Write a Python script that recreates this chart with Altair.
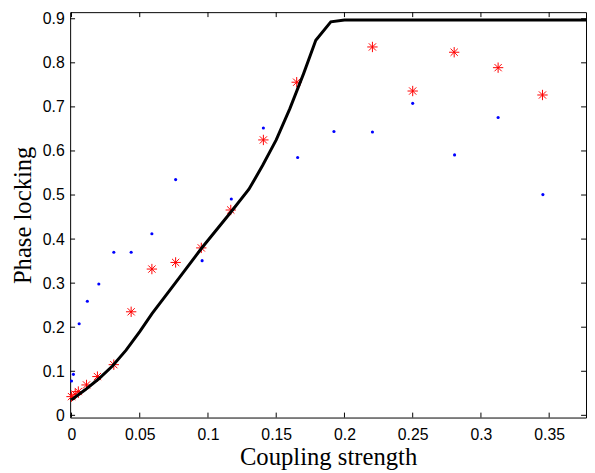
import altair as alt
import pandas as pd

# Theory curve (black line)
line_x = [0, 0.01, 0.02, 0.03, 0.04, 0.05, 0.059, 0.076, 0.095, 0.117, 0.13, 0.14,
          0.15, 0.16, 0.17, 0.179, 0.19, 0.2, 0.38]
line_y = [0.035, 0.058, 0.083, 0.112, 0.148, 0.19, 0.231, 0.30, 0.378, 0.462, 0.513,
          0.567, 0.625, 0.696, 0.775, 0.851, 0.893, 0.897, 0.897]

# Red asterisks
star_x = [0, 0.0027, 0.005, 0.011, 0.019, 0.031, 0.0437, 0.0589, 0.0763, 0.0951,
          0.1167, 0.1406, 0.165, 0.2205, 0.25, 0.2804, 0.3126, 0.3451]
star_y = [0.0425, 0.048, 0.054, 0.069, 0.088, 0.115, 0.235, 0.332, 0.347, 0.380,
          0.466, 0.625, 0.756, 0.836, 0.736, 0.824, 0.789, 0.727]

# Blue dots
dot_x = [0, 0.0014, 0.0056, 0.0116, 0.020, 0.031, 0.0437, 0.0589, 0.0763, 0.0957,
         0.1171, 0.1406, 0.1657, 0.1923, 0.2205, 0.25, 0.2807, 0.3126, 0.3454]
dot_y = [0.078, 0.093, 0.208, 0.259, 0.298, 0.370, 0.370, 0.412, 0.535, 0.351,
         0.491, 0.652, 0.585, 0.644, 0.643, 0.708, 0.591, 0.676, 0.501]

x_ticks = [0, 0.05, 0.1, 0.15, 0.2, 0.25, 0.3, 0.35]
y_ticks = [0, 0.1, 0.2, 0.3, 0.4, 0.5, 0.6, 0.7, 0.8, 0.9]

W, H = 523, 411
TL = 5

line_df = pd.DataFrame({"x": line_x, "y": line_y})
star_df = pd.DataFrame({"x": star_x, "y": star_y})
dot_df = pd.DataFrame({"x": dot_x, "y": dot_y})
xt_df = pd.DataFrame({"v": x_ticks})
yt_df = pd.DataFrame({"v": y_ticks})

xs = alt.Scale(domain=[-0.001, 0.377], nice=False, zero=False)
ys = alt.Scale(domain=[-0.005, 0.915], nice=False, zero=False)

x_axis = alt.Axis(values=x_ticks, format=".2~f", title="Coupling strength",
                  labelFont="Liberation Sans", labelFontSize=16, labelColor="black",
                  labelPadding=9, titleFont="Liberation Serif", titleFontSize=25,
                  titleFontWeight="normal", titleColor="black", titlePadding=3,
                  domain=False, ticks=False, grid=False)
y_axis = alt.Axis(values=y_ticks, format=".1~f", title="Phase locking",
                  labelFont="Liberation Sans", labelFontSize=16, labelColor="black",
                  labelPadding=6, titleFont="Liberation Serif", titleFontSize=25,
                  titleFontWeight="normal", titleColor="black", titlePadding=7,
                  domain=False, ticks=False, grid=False)

dots = alt.Chart(dot_df).mark_point(filled=True, shape="circle", size=10,
                                    color="#0000ff", opacity=1).encode(
    x=alt.X("x:Q", scale=xs, axis=x_axis),
    y=alt.Y("y:Q", scale=ys, axis=y_axis),
)

asterisk = "M-1,0L1,0M0,-1L0,1M-0.7,-0.7L0.7,0.7M-0.7,0.7L0.7,-0.7"
stars = alt.Chart(star_df).mark_point(shape=asterisk, size=110, filled=False,
                                      color="#ff0000", strokeWidth=1, opacity=1).encode(
    x=alt.X("x:Q", scale=xs),
    y=alt.Y("y:Q", scale=ys),
)

line = alt.Chart(line_df).mark_line(color="black", strokeWidth=3, clip=True).encode(
    x=alt.X("x:Q", scale=xs),
    y=alt.Y("y:Q", scale=ys),
)

tick_style = dict(color="black", strokeWidth=1)
bt = alt.Chart(xt_df).mark_rule(**tick_style).encode(
    x=alt.X("v:Q", scale=xs), y=alt.value(H), y2=alt.value(H - TL))
tt = alt.Chart(xt_df).mark_rule(**tick_style).encode(
    x=alt.X("v:Q", scale=xs), y=alt.value(0), y2=alt.value(TL))
lt = alt.Chart(yt_df).mark_rule(**tick_style).encode(
    y=alt.Y("v:Q", scale=ys), x=alt.value(0), x2=alt.value(TL))
rt = alt.Chart(yt_df).mark_rule(**tick_style).encode(
    y=alt.Y("v:Q", scale=ys), x=alt.value(W), x2=alt.value(W - TL))

chart = alt.layer(dots, stars, line, bt, tt, lt, rt).properties(
    width=W, height=H,
    autosize=alt.AutoSizeParams(type="none"),
    padding={"left": 63, "top": 1, "right": 1, "bottom": 52},
).configure_view(stroke="black", strokeWidth=1)

chart.save("out.html", embed_options={"renderer": "svg", "actions": False})
